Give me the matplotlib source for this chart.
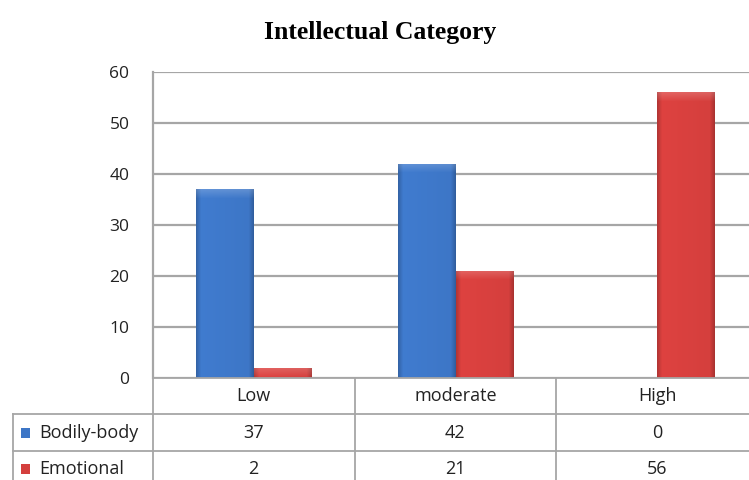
import numpy as np
import matplotlib.pyplot as plt
from matplotlib.colors import to_rgb

categories = ["Low", "moderate", "High"]
series_names = ["Bodily-body", "Emotional"]
bodily = [37, 42, 0]
emotional = [2, 21, 56]
y_ticks = [0, 10, 20, 30, 40, 50, 60]

colors = ["#3d76c6", "#d43f3d"]
grid_col = "#a6a6a6"


def shade_bar(ax, patch, base, px_per_unit):
    # bevel look: darker thin sides, lighter top band
    x0, y0 = patch.get_x(), patch.get_y()
    w, h = patch.get_width(), patch.get_height()
    if h <= 0:
        return
    nx = 60
    ny = max(int(h * px_per_unit), 2)
    t = (np.arange(nx) + 0.5) / nx
    side = np.minimum(t, 1 - t)
    prof_x = 0.78 + 0.22 * np.clip(side / 0.09, 0, 1)
    prof_x = prof_x * (1.0 + 0.05 * (1 - t))
    rows = np.arange(ny)
    top = np.clip(1 - rows / 9.0, 0, 1)
    rgb = np.array(to_rgb(base))
    img = rgb[None, None, :] * prof_x[None, :, None]
    img = img + (1 - img) * 0.18 * top[:, None, None]
    img = np.clip(img, 0, 1)
    im = ax.imshow(img, extent=(x0, x0 + w, y0, y0 + h), aspect="auto",
                   zorder=3, interpolation="bilinear", origin="upper")
    im.set_clip_path(patch)


def main() -> None:
    plt.rcParams["font.family"] = ["Open Sans", "DejaVu Sans"]
    fig = plt.figure(figsize=(7.49, 4.8), dpi=100)

    ax = fig.add_axes([153 / 749, 1 - 378 / 480, 605 / 749, 306 / 480])
    x = np.arange(len(categories))
    width = 0.287
    for i, (vals, col) in enumerate(zip([bodily, emotional], colors)):
        bars = ax.bar(x + (i - 0.5) * width, vals, width, color=col,
                      edgecolor="none", zorder=2)
        for b in bars:
            shade_bar(ax, b, col, 306 / 60)

    ax.set_xlim(-0.5, len(categories) - 0.5)
    ax.set_ylim(0, 60)
    ax.set_yticks(y_ticks)
    ax.set_xticks([])
    ax.tick_params(axis="y", length=0, pad=17, labelsize=12.5, colors="#222222")
    ax.yaxis.grid(True, color=grid_col, linewidth=1.6, zorder=1)
    ax.set_axisbelow(True)
    for s in ["top", "right", "bottom"]:
        ax.spines[s].set_visible(False)
    ax.spines["left"].set_color(grid_col)
    ax.spines["left"].set_linewidth(1.6)

    fig.text(380 / 749, 1 - 33 / 480, "Intellectual Category", ha="center",
             va="center", fontsize=18.5, fontweight="bold",
             family=["Liberation Serif", "DejaVu Serif"])

    # data table under the plot
    lab_w = 140 / 202
    tx = fig.add_axes([13 / 749, 1 - 487 / 480, 745 / 749, 109 / 480])
    tx.set_xlim(-0.5 - lab_w, len(categories) - 0.5)
    tx.set_ylim(3, 0)
    tx.axis("off")
    lw = 1.3
    left = -0.5 - lab_w
    right = len(categories) - 0.5
    tx.plot([-0.5, right], [0, 0], color=grid_col, lw=lw, clip_on=False)
    for r in (1, 2, 3):
        tx.plot([left, right], [r, r], color=grid_col, lw=lw, clip_on=False)
    tx.plot([left, left], [1, 3], color=grid_col, lw=lw, clip_on=False)
    for c in range(len(categories)):
        tx.plot([c - 0.5, c - 0.5], [0, 3], color=grid_col, lw=lw, clip_on=False)
    for c, name in enumerate(categories):
        tx.text(c, 0.5, name, ha="center", va="center", fontsize=13, color="#222222")
    for r, (name, vals, col) in enumerate(zip(series_names, [bodily, emotional], colors)):
        yy = r + 1.5
        tx.add_patch(plt.Rectangle((left + 0.04, yy - 0.13), 0.045, 0.28,
                                   facecolor=col, edgecolor="none"))
        tx.text(left + 0.13, yy, name, ha="left", va="center", fontsize=13,
                color="#222222")
        for c, v in enumerate(vals):
            tx.text(c, yy, str(v), ha="center", va="center", fontsize=13,
                    color="#222222")

    fig.savefig("out.png", dpi=100)
    plt.close(fig)


if __name__ == "__main__":
    main()
